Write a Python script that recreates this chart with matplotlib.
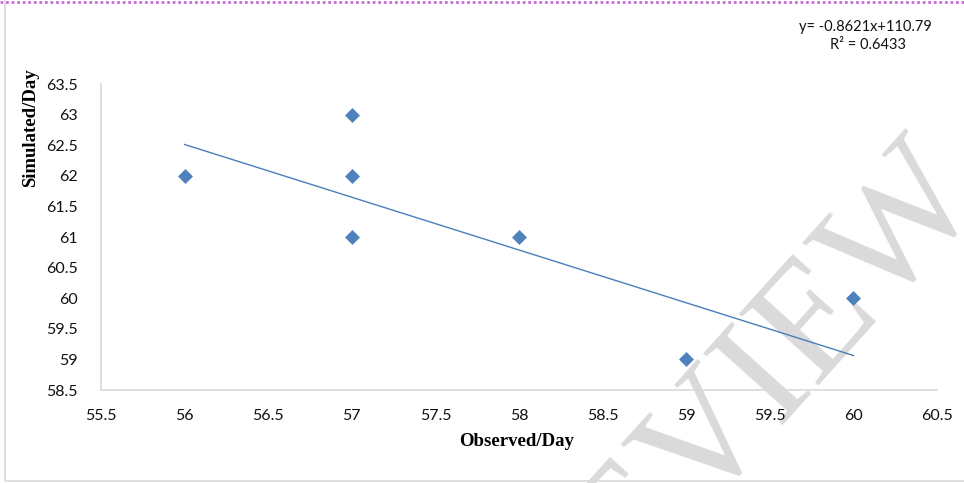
import matplotlib.pyplot as plt
from matplotlib.patches import Rectangle
from matplotlib.lines import Line2D
import numpy as np

# observed vs simulated days
observed = [56, 57, 57, 57, 58, 59, 60]
simulated = [62, 63, 62, 61, 61, 59, 60]

# trend line as reported on the chart
slope = -0.8621
intercept = 110.79
r_squared = 0.6433

x_ticks = [55.5, 56, 56.5, 57, 57.5, 58, 58.5, 59, 59.5, 60, 60.5]
y_ticks = [58.5, 59, 59.5, 60, 60.5, 61, 61.5, 62, 62.5, 63, 63.5]

blue = "#4F81BD"
grid_gray = "#d9d9d9"

fig = plt.figure(figsize=(9.64, 4.83), dpi=100)
ax = fig.add_axes([0.1048, 0.1925, 0.8672, 0.6335])
ax.patch.set_alpha(0)

ax.scatter(observed, simulated, marker="D", s=58, color=blue, zorder=3, linewidths=0)

fit_x = np.array([min(observed), max(observed)])
ax.plot(fit_x, slope * fit_x + intercept, color="#4A7EBB", lw=1.0, zorder=2)

ax.set_xlim(x_ticks[0], x_ticks[-1])
ax.set_ylim(y_ticks[0], y_ticks[-1])
ax.set_xticks(x_ticks)
ax.set_yticks(y_ticks)
ax.set_xticklabels([f"{v:g}" for v in x_ticks], fontfamily="Lato", fontsize=11.5)
ax.set_yticklabels([f"{v:g}" for v in y_ticks], fontfamily="Lato", fontsize=11.5)
ax.tick_params(length=0, pad=14, colors="#111111")
ax.tick_params(axis="y", pad=17)

for side in ["top", "right"]:
    ax.spines[side].set_visible(False)
for side in ["left", "bottom"]:
    ax.spines[side].set_color(grid_gray)
    ax.spines[side].set_linewidth(1.2)

fig.text(517 / 964, 1 - 442 / 483, "Observed/Day", ha="center", va="center",
         fontfamily="Liberation Serif", fontweight="bold", fontsize=13.5)
fig.text(31 / 964, 1 - 128 / 483, "Simulated/Day", ha="center", va="center", rotation=90,
         fontfamily="Liberation Serif", fontweight="bold", fontsize=13.5)

fig.text(865 / 964, 1 - 27 / 483, f"y= {slope}x+{intercept}", ha="center", va="center",
         fontfamily="Lato", fontsize=10.5, color="#111111")
fig.text(868 / 964, 1 - 45 / 483, f"R² = {r_squared}", ha="center", va="center",
         fontfamily="Lato", fontsize=10.5, color="#111111")

# page border and watermark (behind the data)
fig.patches.append(Rectangle((5 / 964, 2 / 483), 1.0, 1.0, transform=fig.transFigure,
                             fill=False, edgecolor=grid_gray, lw=1.2))
fig.lines.append(Line2D([0, 1], [1 - 1.5 / 483, 1 - 1.5 / 483], transform=fig.transFigure,
                        color="#c86dd7", lw=2, ls=(0, (1, 1))))
fig.text(712 / 964, 1 - 440 / 483, "PREVIEW", ha="center", va="center", rotation=48,
         fontfamily="Liberation Serif", fontsize=118, color="#dadada", zorder=-1)

fig.savefig("out.png", dpi=100)
